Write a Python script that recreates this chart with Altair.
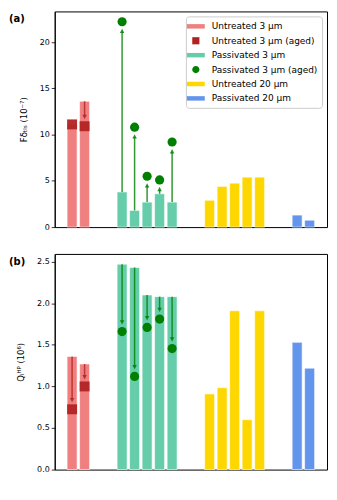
import altair as alt
import pandas as pd

# ---------------- data ----------------
SERIES = ["Untreated 3 μm", "Untreated 3 μm (aged)", "Passivated 3 μm",
          "Passivated 3 μm (aged)", "Untreated 20 μm", "Passivated 20 μm"]
COLORS = ["#F08080", "#B22222", "#66CDAA", "#008000", "#FFD700", "#6495ED"]

BAR_GROUPS = ["Untreated 3 μm", "Passivated 3 μm", "Untreated 20 μm", "Passivated 20 μm"]
AGED_OF = {"Untreated 3 μm": "Untreated 3 μm (aged)",
           "Passivated 3 μm": "Passivated 3 μm (aged)"}

# panel (a): F delta_TLS (1e-7)
a_untreated_3 = [11.1, 13.6]
a_untreated_3_aged = [11.1, 10.9]
a_passivated_3 = [3.8, 1.8, 2.7, 3.6, 2.7]
a_passivated_3_aged = [22.2, 10.8, 5.5, 5.1, 9.2]
a_untreated_20 = [2.9, 4.4, 4.75, 5.4, 5.4]
a_passivated_20 = [1.3, 0.75]

# panel (b): Q_i^HP (1e6)
b_untreated_3 = [1.36, 1.27]
b_untreated_3_aged = [0.725, 1.0]
b_passivated_3 = [2.47, 2.43, 2.10, 2.08, 2.08]
b_passivated_3_aged = [1.66, 1.12, 1.71, 1.81, 1.455]
b_untreated_20 = [0.91, 0.985, 1.91, 0.6, 1.91]
b_passivated_20 = [1.53, 1.22]

A_TICKS = [0, 5, 10, 15, 20]
B_TICKS = [0.0, 0.5, 1.0, 1.5, 2.0, 2.5]
A_TITLE = "Fδₜₗₛ (10⁻⁷)"
B_TITLE = "Qᵢᴴᴾ (10⁶)"
PANEL_LABELS = ["(a)", "(b)"]

FONT = "DejaVu Sans"

# legend symbol paths
RECT = "M-1.5,-0.375H1.5V0.375H-1.5Z"
SQUARE = "M-0.6,-0.6H0.6V0.6H-0.6Z"
CIRCLE = "M0.6,0A0.6,0.6,0,1,1,-0.6,0A0.6,0.6,0,1,1,0.6,0Z"
LEGEND_SHAPES = [RECT, SQUARE, RECT, CIRCLE, RECT, RECT]

UP_HEAD = "M0,0L-1,2L1,2Z"
DOWN_HEAD = "M0,0L-1,-2L1,-2Z"


def build(bar_lists, aged_lists):
    bars, aged = [], []
    pos = 0
    for g, vals in zip(BAR_GROUPS, bar_lists):
        for i, v in enumerate(vals):
            bars.append({"series": g, "pos": pos, "x0": pos - 0.4, "x1": pos + 0.4, "value": v})
            if g in aged_lists:
                a = aged_lists[g][i]
                d = "up" if a > v else ("down" if a < v else "none")
                aged.append({"series": AGED_OF[g], "pos": pos, "base": v, "aged": a, "dir": d})
            pos += 1
        pos += 2
    return pd.DataFrame(bars), pd.DataFrame(aged)


bars_a, aged_a = build([a_untreated_3, a_passivated_3, a_untreated_20, a_passivated_20],
                       {"Untreated 3 μm": a_untreated_3_aged, "Passivated 3 μm": a_passivated_3_aged})
bars_b, aged_b = build([b_untreated_3, b_passivated_3, b_untreated_20, b_passivated_20],
                       {"Untreated 3 μm": b_untreated_3_aged, "Passivated 3 μm": b_passivated_3_aged})

xmin = bars_a["x0"].min()
xmax = bars_a["x1"].max()
xm = 0.05 * (xmax - xmin)
XDOM = [xmin - xm, xmax + xm]

color_scale = alt.Scale(domain=SERIES, range=COLORS)


def panel(bars, aged, ticks, fmt, title, label, with_legend):
    ymax = max(bars["value"].max(), aged["aged"].max(), aged["base"].max()) * 1.05
    yscale = alt.Scale(domain=[0, ymax], nice=False, zero=True, padding=0)
    yaxis = alt.Axis(values=ticks, format=fmt, title=title)
    xscale = alt.Scale(domain=XDOM, nice=False, zero=False, padding=0)

    def Y(f):
        return alt.Y(f, scale=yscale, axis=yaxis)

    col = alt.Color("series:N", scale=color_scale, legend=None)

    bar_layer = alt.Chart(bars).mark_bar(stroke="white", strokeOpacity=0.6, strokeWidth=1).encode(
        x=alt.X("x0:Q", scale=xscale, axis=None), x2="x1:Q", y=Y("value:Q"), y2=alt.datum(0), color=col)

    base = alt.Chart(aged)
    up = base.transform_filter(alt.datum.dir == "up")
    down = base.transform_filter(alt.datum.dir == "down")
    xp = alt.X("pos:Q", scale=xscale, axis=None)

    rule_up = up.mark_rule(strokeWidth=1.5, opacity=0.8, y2Offset=10).encode(
        x=xp, y=Y("base:Q"), y2="aged:Q", color=col)
    rule_down = down.mark_rule(strokeWidth=1.5, opacity=0.8, y2Offset=-10).encode(
        x=xp, y=Y("base:Q"), y2="aged:Q", color=col)
    head_up = up.mark_point(shape=UP_HEAD, filled=True, size=20, opacity=0.85, yOffset=7,
                            strokeWidth=0).encode(x=xp, y=Y("aged:Q"), color=col)
    head_down = down.mark_point(shape=DOWN_HEAD, filled=True, size=20, opacity=0.85, yOffset=-7,
                                strokeWidth=0).encode(x=xp, y=Y("aged:Q"), color=col)

    squares = base.transform_filter(alt.datum.series == SERIES[1]).mark_point(
        shape="square", filled=True, size=100, opacity=0.95, strokeWidth=0).encode(
        x=xp, y=Y("aged:Q"), color=col)
    circles = base.transform_filter(alt.datum.series == SERIES[3]).mark_point(
        shape="circle", filled=True, size=85, opacity=1, strokeWidth=0).encode(
        x=xp, y=Y("aged:Q"), color=col)

    lab = alt.Chart(pd.DataFrame({"label": [label]})).mark_text(
        align="left", baseline="middle", fontWeight="bold", fontSize=10, font=FONT, color="black"
    ).encode(x=alt.value(-46), y=alt.value(8), text="label:N")

    layers = [bar_layer, rule_up, rule_down, head_up, head_down, squares, circles, lab]

    if with_legend:
        leg = alt.Legend(title=None, orient="top-right", offset=5, padding=4,
                         fillColor="rgba(255,255,255,0.8)", strokeColor="#cccccc",
                         cornerRadius=3, labelFont=FONT, labelFontSize=9, labelColor="black",
                         symbolSize=144, symbolOpacity=1, symbolStrokeWidth=0,
                         rowPadding=3.5, labelOffset=10, labelLimit=300)
        leg_layer = alt.Chart(pd.DataFrame({"series": SERIES})).mark_point(
            filled=True, opacity=0, size=1).encode(
            color=alt.Color("series:N", scale=color_scale, legend=leg),
            shape=alt.Shape("series:N", scale=alt.Scale(domain=SERIES, range=LEGEND_SHAPES), legend=leg))
        layers.insert(0, leg_layer)

    return alt.layer(*layers).properties(width=274, height=217)


top = panel(bars_a, aged_a, A_TICKS, "d", A_TITLE, PANEL_LABELS[0], True)
bottom = panel(bars_b, aged_b, B_TICKS, ".1f", B_TITLE, PANEL_LABELS[1], False)

chart = alt.vconcat(top, bottom, spacing=21).resolve_scale(
    y="independent", color="independent", shape="independent"
).properties(
    padding={"left": 0, "top": 1, "right": 1, "bottom": 1}
).configure(font=FONT).configure_view(
    stroke="black", strokeWidth=1
).configure_axis(
    grid=False, labelFont=FONT, labelFontSize=8, labelColor="black",
    tickColor="black", tickSize=3.5, tickWidth=0.8, domainColor="black",
    titleFont=FONT, titleFontSize=8.5, titleFontWeight="normal", titleColor="black",
    titlePadding=11, labelPadding=2
)

chart.save("out.html", embed_options={"renderer": "svg", "actions": False})
